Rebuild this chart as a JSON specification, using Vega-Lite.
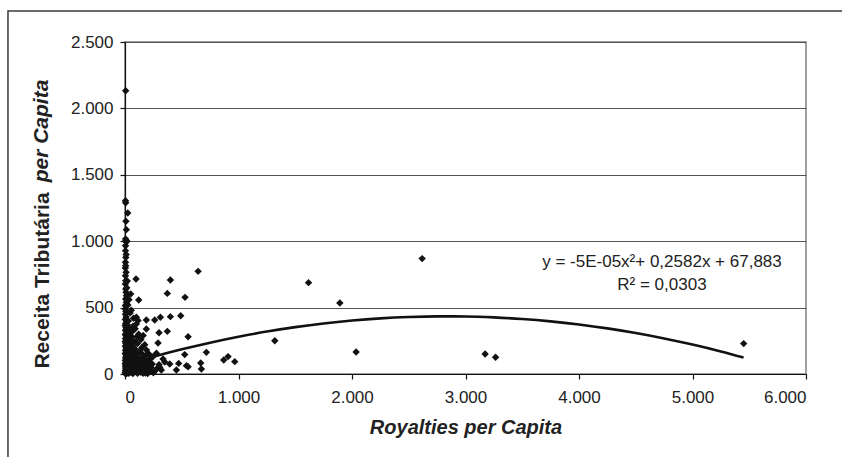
{
  "$schema": "https://vega.github.io/schema/vega-lite/v6.json",
  "width": 681,
  "height": 332,
  "autosize": {"type": "none"},
  "padding": {"left": 125, "top": 42, "right": 36, "bottom": 83},
  "background": "white",
  "config": {
    "locale": {"number": {"decimal": ",", "thousands": ".", "grouping": [3], "currency": ["", ""]}},
    "font": "Liberation Sans",
    "view": {"stroke": "#808080", "strokeWidth": 1.5},
    "axis": {
      "domainColor": "#111111",
      "domainWidth": 1.2,
      "tickColor": "#111111",
      "tickWidth": 1.2,
      "tickSize": 5,
      "labelFont": "Liberation Sans",
      "labelFontSize": 17,
      "labelColor": "#222222",
      "titleFont": "Liberation Sans",
      "titleFontSize": 20,
      "titleFontWeight": "bold",
      "titleColor": "#222222"
    }
  },
  "datasets": {
    "points": [
      {"royalties": 6, "receita": 2133}, {"royalties": 4, "receita": 1305}, {"royalties": 6, "receita": 1290}, {"royalties": 24, "receita": 1212},
      {"royalties": 12, "receita": 1087}, {"royalties": 5, "receita": 1017}, {"royalties": 4, "receita": 999}, {"royalties": 5, "receita": 966},
      {"royalties": 4, "receita": 929}, {"royalties": 7, "receita": 878}, {"royalties": 4, "receita": 841}, {"royalties": 6, "receita": 816},
      {"royalties": 3, "receita": 798}, {"royalties": 9, "receita": 766}, {"royalties": 4, "receita": 740}, {"royalties": 6, "receita": 703},
      {"royalties": 3, "receita": 678}, {"royalties": 7, "receita": 640}, {"royalties": 9, "receita": 615}, {"royalties": 12, "receita": 590},
      {"royalties": 6, "receita": 565}, {"royalties": 12, "receita": 540}, {"royalties": 3, "receita": 515}, {"royalties": 2, "receita": 490},
      {"royalties": 8, "receita": 470}, {"royalties": 4, "receita": 450}, {"royalties": 10, "receita": 430}, {"royalties": 3, "receita": 410},
      {"royalties": 15, "receita": 395}, {"royalties": 6, "receita": 380}, {"royalties": 2, "receita": 365}, {"royalties": 9, "receita": 350},
      {"royalties": 18, "receita": 340}, {"royalties": 4, "receita": 330}, {"royalties": 12, "receita": 320}, {"royalties": 25, "receita": 310},
      {"royalties": 3, "receita": 300}, {"royalties": 8, "receita": 290}, {"royalties": 16, "receita": 282}, {"royalties": 30, "receita": 275},
      {"royalties": 5, "receita": 268}, {"royalties": 11, "receita": 260}, {"royalties": 22, "receita": 252}, {"royalties": 2, "receita": 245},
      {"royalties": 40, "receita": 240}, {"royalties": 7, "receita": 232}, {"royalties": 14, "receita": 225}, {"royalties": 28, "receita": 218},
      {"royalties": 3, "receita": 210}, {"royalties": 50, "receita": 205}, {"royalties": 9, "receita": 198}, {"royalties": 19, "receita": 190},
      {"royalties": 35, "receita": 185}, {"royalties": 4, "receita": 178}, {"royalties": 60, "receita": 172}, {"royalties": 12, "receita": 165},
      {"royalties": 24, "receita": 160}, {"royalties": 2, "receita": 155}, {"royalties": 45, "receita": 150}, {"royalties": 8, "receita": 145},
      {"royalties": 80, "receita": 140}, {"royalties": 17, "receita": 135}, {"royalties": 32, "receita": 130}, {"royalties": 5, "receita": 125},
      {"royalties": 55, "receita": 120}, {"royalties": 11, "receita": 115}, {"royalties": 90, "receita": 112}, {"royalties": 26, "receita": 108},
      {"royalties": 3, "receita": 104}, {"royalties": 70, "receita": 100}, {"royalties": 14, "receita": 96}, {"royalties": 40, "receita": 92},
      {"royalties": 7, "receita": 88}, {"royalties": 110, "receita": 85}, {"royalties": 21, "receita": 82}, {"royalties": 60, "receita": 78},
      {"royalties": 2, "receita": 75}, {"royalties": 35, "receita": 72}, {"royalties": 130, "receita": 70}, {"royalties": 10, "receita": 66},
      {"royalties": 85, "receita": 63}, {"royalties": 48, "receita": 60}, {"royalties": 4, "receita": 57}, {"royalties": 150, "receita": 55},
      {"royalties": 18, "receita": 52}, {"royalties": 100, "receita": 49}, {"royalties": 30, "receita": 46}, {"royalties": 6, "receita": 43},
      {"royalties": 65, "receita": 40}, {"royalties": 170, "receita": 38}, {"royalties": 13, "receita": 35}, {"royalties": 120, "receita": 32},
      {"royalties": 42, "receita": 30}, {"royalties": 3, "receita": 27}, {"royalties": 75, "receita": 25}, {"royalties": 200, "receita": 22},
      {"royalties": 23, "receita": 20}, {"royalties": 95, "receita": 18}, {"royalties": 8, "receita": 15}, {"royalties": 140, "receita": 13},
      {"royalties": 55, "receita": 11}, {"royalties": 2, "receita": 9}, {"royalties": 180, "receita": 8}, {"royalties": 33, "receita": 6},
      {"royalties": 110, "receita": 5}, {"royalties": 15, "receita": 4}, {"royalties": 70, "receita": 3}, {"royalties": 5, "receita": 2},
      {"royalties": 250, "receita": 10}, {"royalties": 220, "receita": 30}, {"royalties": 160, "receita": 20}, {"royalties": 130, "receita": 45},
      {"royalties": 190, "receita": 60}, {"royalties": 240, "receita": 75}, {"royalties": 210, "receita": 95}, {"royalties": 170, "receita": 110},
      {"royalties": 150, "receita": 125}, {"royalties": 125, "receita": 90}, {"royalties": 105, "receita": 130}, {"royalties": 90, "receita": 160},
      {"royalties": 75, "receita": 200}, {"royalties": 65, "receita": 230}, {"royalties": 50, "receita": 260}, {"royalties": 40, "receita": 290},
      {"royalties": 30, "receita": 330}, {"royalties": 20, "receita": 370},
      {"royalties": 20, "receita": 50}, {"royalties": 35, "receita": 90}, {"royalties": 45, "receita": 120}, {"royalties": 55, "receita": 170},
      {"royalties": 25, "receita": 210}, {"royalties": 15, "receita": 260}, {"royalties": 35, "receita": 300}, {"royalties": 45, "receita": 340},
      {"royalties": 60, "receita": 280}, {"royalties": 70, "receita": 150}, {"royalties": 80, "receita": 90}, {"royalties": 90, "receita": 60},
      {"royalties": 100, "receita": 30}, {"royalties": 110, "receita": 70}, {"royalties": 120, "receita": 110}, {"royalties": 85, "receita": 190},
      {"royalties": 95, "receita": 240}, {"royalties": 105, "receita": 280}, {"royalties": 60, "receita": 320}, {"royalties": 30, "receita": 400},
      {"royalties": 45, "receita": 460}, {"royalties": 25, "receita": 520}, {"royalties": 70, "receita": 360}, {"royalties": 115, "receita": 160},
      {"royalties": 135, "receita": 100}, {"royalties": 145, "receita": 70}, {"royalties": 165, "receita": 90}, {"royalties": 185, "receita": 40},
      {"royalties": 200, "receita": 80}, {"royalties": 230, "receita": 50}, {"royalties": 260, "receita": 20}, {"royalties": 280, "receita": 40},
      {"royalties": 300, "receita": 70}, {"royalties": 320, "receita": 30}, {"royalties": 350, "receita": 90}, {"royalties": 230, "receita": 120},
      {"royalties": 210, "receita": 150}, {"royalties": 190, "receita": 180}, {"royalties": 150, "receita": 200}, {"royalties": 140, "receita": 260},
      {"royalties": 120, "receita": 300}, {"royalties": 160, "receita": 290}, {"royalties": 90, "receita": 340}, {"royalties": 75, "receita": 420},
      {"royalties": 20, "receita": 130}, {"royalties": 10, "receita": 80}, {"royalties": 40, "receita": 20}, {"royalties": 60, "receita": 60},
      {"royalties": 80, "receita": 30}, {"royalties": 120, "receita": 15}, {"royalties": 160, "receita": 5}, {"royalties": 200, "receita": 3},
      {"royalties": 140, "receita": 160}, {"royalties": 180, "receita": 140}, {"royalties": 110, "receita": 230}, {"royalties": 55, "receita": 480},
      {"royalties": 35, "receita": 560}, {"royalties": 15, "receita": 650}, {"royalties": 20, "receita": 700}, {"royalties": 10, "receita": 900},
      {"royalties": 18, "receita": 1000}, {"royalties": 8, "receita": 1150},
      {"royalties": 97, "receita": 715}, {"royalties": 50, "receita": 602}, {"royalties": 121, "receita": 557}, {"royalties": 400, "receita": 708},
      {"royalties": 644, "receita": 773}, {"royalties": 373, "receita": 607}, {"royalties": 529, "receita": 577}, {"royalties": 400, "receita": 432},
      {"royalties": 491, "receita": 439}, {"royalties": 312, "receita": 427}, {"royalties": 262, "receita": 407}, {"royalties": 188, "receita": 407},
      {"royalties": 100, "receita": 427}, {"royalties": 115, "receita": 402}, {"royalties": 100, "receita": 377}, {"royalties": 188, "receita": 339},
      {"royalties": 373, "receita": 321}, {"royalties": 300, "receita": 311}, {"royalties": 556, "receita": 281}, {"royalties": 291, "receita": 233},
      {"royalties": 174, "receita": 221}, {"royalties": 717, "receita": 163}, {"royalties": 526, "receita": 146}, {"royalties": 870, "receita": 105},
      {"royalties": 908, "receita": 131}, {"royalties": 967, "receita": 93}, {"royalties": 667, "receita": 83}, {"royalties": 673, "receita": 38},
      {"royalties": 394, "receita": 75}, {"royalties": 473, "receita": 80}, {"royalties": 453, "receita": 30}, {"royalties": 541, "receita": 63},
      {"royalties": 556, "receita": 55}, {"royalties": 335, "receita": 113}, {"royalties": 306, "receita": 50}, {"royalties": 277, "receita": 156},
      {"royalties": 247, "receita": 131}, {"royalties": 203, "receita": 63}, {"royalties": 159, "receita": 138}, {"royalties": 130, "receita": 176},
      {"royalties": 71, "receita": 251}, {"royalties": 56, "receita": 314}, {"royalties": 71, "receita": 201}, {"royalties": 218, "receita": 25},
      {"royalties": 174, "receita": 50}, {"royalties": 100, "receita": 100},
      {"royalties": 1320, "receita": 250}, {"royalties": 1617, "receita": 688}, {"royalties": 1893, "receita": 535}, {"royalties": 2036, "receita": 166},
      {"royalties": 2618, "receita": 869}, {"royalties": 3173, "receita": 151}, {"royalties": 3265, "receita": 126}, {"royalties": 5451, "receita": 229}
    ],
    "curve": [
      {"royalties": 0, "receita": 67.9}, {"royalties": 100, "receita": 93.2}, {"royalties": 250, "receita": 129.6},
      {"royalties": 500, "receita": 185.6}, {"royalties": 750, "receita": 236.0}, {"royalties": 1000, "receita": 280.6},
      {"royalties": 1250, "receita": 319.6}, {"royalties": 1500, "receita": 352.8}, {"royalties": 1750, "receita": 380.5},
      {"royalties": 2000, "receita": 402.3}, {"royalties": 2250, "receita": 418.6}, {"royalties": 2500, "receita": 429.0},
      {"royalties": 2750, "receita": 433.9}, {"royalties": 3000, "receita": 433.0}, {"royalties": 3250, "receita": 426.5},
      {"royalties": 3500, "receita": 414.2}, {"royalties": 3750, "receita": 396.4}, {"royalties": 4000, "receita": 372.7},
      {"royalties": 4250, "receita": 343.5}, {"royalties": 4500, "receita": 308.4}, {"royalties": 4750, "receita": 267.8},
      {"royalties": 5000, "receita": 221.4}, {"royalties": 5250, "receita": 169.5}, {"royalties": 5450, "receita": 123.6}
    ]
  },
  "layer": [
    {
      "data": {"values": [{}]},
      "mark": {"type": "rect", "fill": null, "fillOpacity": 0, "stroke": "#3a3a3a", "strokeWidth": 1.5},
      "encoding": {
        "x": {"datum": -1031, "type": "quantitative"},
        "x2": {"datum": 6345},
        "y": {"datum": 2733, "type": "quantitative"},
        "y2": {"datum": -700}
      }
    },
    {
      "data": {"name": "points"},
      "mark": {"type": "point", "shape": "diamond", "filled": true, "color": "#111111", "size": 55, "opacity": 1},
      "encoding": {
        "x": {
          "field": "royalties", "type": "quantitative",
          "scale": {"domain": [0, 6000], "nice": false},
          "axis": {
            "values": [0, 1000, 2000, 3000, 4000, 5000, 6000],
            "format": ",d",
            "grid": false,
            "labelPadding": 10,
            "title": "Royalties per Capita",
            "titleFontStyle": "italic",
            "titlePadding": 12
          }
        },
        "y": {
          "field": "receita", "type": "quantitative",
          "scale": {"domain": [0, 2500], "nice": false},
          "axis": {
            "values": [0, 500, 1000, 1500, 2000, 2500],
            "format": ",d",
            "grid": true,
            "gridColor": "#555555",
            "gridWidth": 1,
            "labelPadding": 7,
            "title": "Receita Tributária",
            "titleFontSize": 21,
            "titleAngle": 270,
            "titleAlign": "center",
            "titleBaseline": "middle",
            "titleX": -83,
            "titleY": 238
          }
        }
      }
    },
    {
      "data": {"name": "curve"},
      "mark": {"type": "line", "color": "#111111", "strokeWidth": 2.6, "interpolate": "monotone"},
      "encoding": {
        "x": {"field": "royalties", "type": "quantitative"},
        "y": {"field": "receita", "type": "quantitative"}
      }
    },
    {
      "data": {"values": [{}]},
      "mark": {"type": "text", "align": "center", "baseline": "middle", "fontSize": 17, "color": "#222222", "font": "Liberation Sans"},
      "encoding": {
        "x": {"datum": 4731, "type": "quantitative"},
        "y": {"datum": 843, "type": "quantitative"},
        "text": {"value": "y = -5E-05x²+ 0,2582x + 67,883"}
      }
    },
    {
      "data": {"values": [{}]},
      "mark": {"type": "text", "align": "center", "baseline": "middle", "fontSize": 17, "color": "#222222", "font": "Liberation Sans"},
      "encoding": {
        "x": {"datum": 4731, "type": "quantitative"},
        "y": {"datum": 668, "type": "quantitative"},
        "text": {"value": "R² = 0,0303"}
      }
    },
    {
      "data": {"values": [{}]},
      "mark": {"type": "text", "align": "center", "baseline": "middle", "angle": 270, "fontSize": 21, "fontWeight": "bold", "fontStyle": "italic", "color": "#222222", "font": "Liberation Sans"},
      "encoding": {
        "x": {"datum": -734, "type": "quantitative"},
        "y": {"datum": 1830, "type": "quantitative"},
        "text": {"value": "per Capita"}
      }
    }
  ]
}
